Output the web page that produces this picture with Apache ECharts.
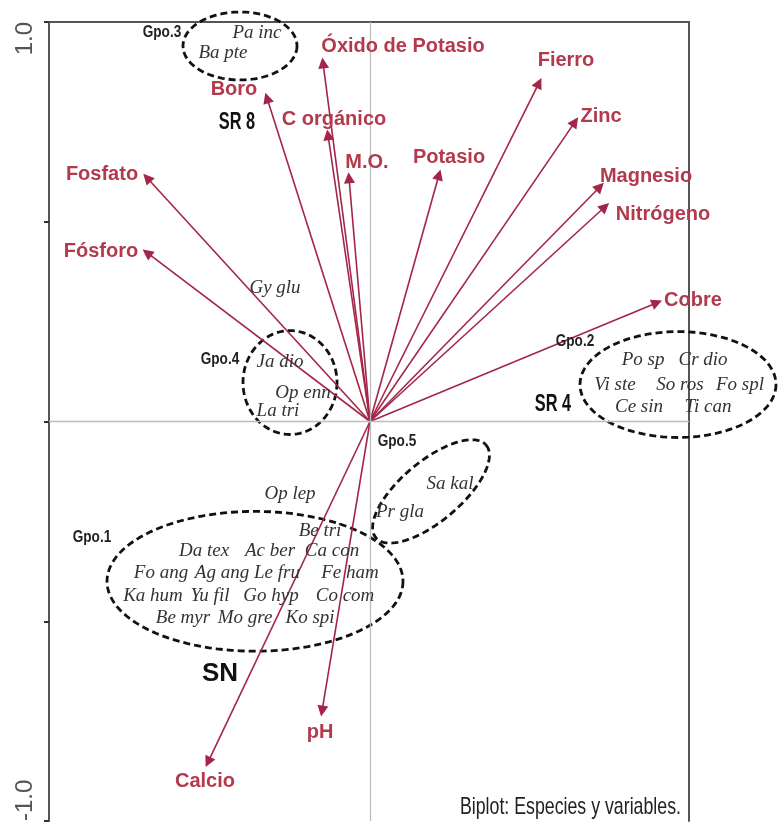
<!DOCTYPE html>
<html><head><meta charset="utf-8">
<script src="https://cdn.jsdelivr.net/npm/echarts@6/dist/echarts.min.js"></script>
<style>html,body{margin:0;padding:0;background:#fff}#c{width:778px;height:824px}</style>
</head><body><div id="c"></div>
<script>
// ---- Variables (arrows) ----
const varNames = ['Óxido de Potasio','Boro','C orgánico','M.O.','Fosfato','Fósforo','Potasio','Fierro','Zinc','Magnesio','Nitrógeno','Cobre','Calcio','pH'];
const varX = [-0.1175,-0.2575,-0.105,-0.0525,-0.5575,-0.5575,0.1725,0.4225,0.5125,0.575,0.5875,0.7175,-0.405,-0.12];
const varY = [0.8975,0.81,0.7175,0.61,0.61,0.4225,0.6175,0.8475,0.75,0.5875,0.5375,0.2975,-0.8525,-0.725];
const varLabelX = [0.0825,-0.34,-0.09,-0.0075,-0.67,-0.6725,0.1975,0.49,0.5775,0.69,0.7325,0.8075,-0.4125,-0.125];
const varLabelY = [0.9375,0.83,0.755,0.6475,0.6175,0.425,0.66,0.9025,0.7625,0.6125,0.5175,0.3025,-0.9,-0.7775];

// ---- Species ----
const speciesNames = ['Pa inc','Ba pte','Gy glu','Ja dio','Op enn','La tri','Sa kal','Pr gla','Op lep','Be tri',
  'Da tex','Ac ber','Ca con','Fo ang','Ag ang','Le fru','Fe ham','Ka hum','Yu fil','Go hyp','Co com','Be myr','Mo gre','Ko spi',
  'Po sp','Cr dio','Vi ste','So ros','Fo spl','Ce sin','Ti can'];
const speciesX = [-0.2825,-0.3675,-0.2375,-0.225,-0.1675,-0.23,0.2,0.075,-0.2,-0.125,
  -0.415,-0.25,-0.095,-0.5225,-0.37,-0.2325,-0.05,-0.5425,-0.4,-0.2475,-0.0625,-0.4675,-0.3125,-0.15,
  0.6825,0.8325,0.6125,0.775,0.925,0.6725,0.845];
const speciesY = [0.9725,0.9225,0.335,0.15,0.0725,0.0275,-0.1575,-0.2275,-0.1825,-0.275,
  -0.325,-0.325,-0.325,-0.38,-0.38,-0.38,-0.38,-0.4375,-0.4375,-0.4375,-0.4375,-0.4925,-0.4925,-0.4925,
  0.155,0.155,0.0925,0.0925,0.0925,0.0375,0.0375];

// ---- Groups (dashed ellipses) ----
const groupNames = ['Gpo.1','Gpo.2','Gpo.3','Gpo.4','Gpo.5'];
const groupLabelX = [-0.695,0.5125,-0.52,-0.375,0.0675];
const groupLabelY = [-0.29,0.2,0.975,0.155,-0.05];
const groupCX = [-0.2875,0.77,-0.325,-0.2,0.1525];
const groupCY = [-0.4,0.0925,0.94,0.0975,-0.175];
const groupRX = [0.37,0.245,0.1425,0.1175,0.18];
const groupRY = [0.175,0.1325,0.085,0.13,0.075];
const groupAngle = [0,0,0,0,40];

// ---- Site labels ----
const siteNames = ['SR 8','SR 4'];
const siteX = [-0.3325,0.4575];
const siteY = [0.7475,0.0425];
const snName = ['SN'];
const snX = [-0.375];
const snY = [-0.6325];

// ---- Axis ----
const yTickLabels = {'1': '1.0', '-1': '-1.0'};
const caption = 'Biplot: Especies y variables.';

const SANS = "'Liberation Sans',Arial,sans-serif";
const SERIF = "'Liberation Serif','Times New Roman',serif";

function textSeries(xs, ys, names, style, z, scaleX) {
  return {
    type: 'custom', coordinateSystem: 'cartesian2d', clip: false, silent: true, z: z || 5,
    data: xs.map((x, i) => [x, ys[i]]),
    renderItem: function (params, api) {
      const p = api.coord([api.value(0), api.value(1)]);
      return {
        type: 'text', x: p[0], y: p[1], scaleX: scaleX || 1,
        style: Object.assign({ text: names[params.dataIndex], align: 'center', verticalAlign: 'middle' }, style)
      };
    }
  };
}

const chart = echarts.init(document.getElementById('c'));
chart.setOption({
  animation: false,
  backgroundColor: '#fff',
  graphic: [{
    type: 'text', x: 681, y: 807, scaleX: 0.74, silent: true, z: 10,
    style: { text: caption, fontFamily: SANS, fontSize: 24, fill: '#222', align: 'right', verticalAlign: 'middle' }
  }],
  grid: { left: 49, right: 89, top: 22, bottom: 2 },
  xAxis: [{
    type: 'value', min: -0.8025, max: 0.7975, position: 'top',
    axisLine: { show: true, onZero: false, lineStyle: { color: '#555', width: 2 } },
    axisTick: { show: false }, axisLabel: { show: false }, splitLine: { show: false }
  }],
  yAxis: [{
    type: 'value', min: -1, max: 1, interval: 0.5, position: 'left',
    axisLine: { show: true, onZero: false, lineStyle: { color: '#555', width: 2 } },
    axisTick: { show: true, length: 5, lineStyle: { color: '#333', width: 2 } },
    axisLabel: {
      formatter: v => yTickLabels[String(v)] || '',
      rotate: 90, fontSize: 24, color: '#555', fontFamily: SANS, margin: 12,
      showMinLabel: true, showMaxLabel: true, alignMinLabel: 'left', alignMaxLabel: 'right'
    },
    splitLine: { show: false }
  }, {
    type: 'value', min: -1, max: 1, position: 'right',
    axisLine: { show: true, onZero: false, lineStyle: { color: '#555', width: 2 } },
    axisTick: { show: false }, axisLabel: { show: false }, splitLine: { show: false }
  }],
  series: [
    {
      type: 'line', data: [], silent: true, z: 1,
      markLine: {
        silent: true, symbol: 'none', label: { show: false }, animation: false,
        lineStyle: { color: '#bdbdbd', width: 1.3, type: 'solid' },
        data: [{ xAxis: 0 }, { yAxis: 0 }]
      }
    },
    {
      type: 'custom', coordinateSystem: 'cartesian2d', clip: false, silent: true, z: 3,
      data: groupCX.map((x, i) => [x, groupCY[i]]),
      renderItem: function (params, api) {
        const i = params.dataIndex;
        const c = api.coord([groupCX[i], groupCY[i]]);
        const s = api.size([groupRX[i], groupRY[i]]);
        const a = groupAngle[i] * Math.PI / 180;
        const pts = [];
        for (let k = 0; k < 120; k++) {
          const t = k / 120 * 2 * Math.PI;
          const ex = s[0] * Math.cos(t), ey = s[1] * Math.sin(t);
          pts.push([c[0] + ex * Math.cos(a) + ey * Math.sin(a), c[1] - ex * Math.sin(a) + ey * Math.cos(a)]);
        }
        return { type: 'polygon', shape: { points: pts }, style: { fill: 'none', stroke: '#111', lineWidth: 2.8, lineDash: [7, 4] } };
      }
    },
    {
      type: 'lines', coordinateSystem: 'cartesian2d', z: 4, silent: true,
      symbol: ['none', 'triangle'], symbolSize: 11,
      lineStyle: { color: '#a3264a', width: 1.6, opacity: 1 },
      data: varNames.map((n, i) => ({ coords: [[0, 0], [varX[i], varY[i]]] }))
    },
    textSeries(varLabelX, varLabelY, varNames, { fontFamily: SANS, fontSize: 20, fontWeight: 'bold', fill: '#b23a4c' }, 6),
    textSeries(speciesX, speciesY, speciesNames, { fontFamily: SERIF, fontSize: 19, fontStyle: 'italic', fill: '#333' }, 5),
    textSeries(groupLabelX, groupLabelY, groupNames, { fontFamily: SANS, fontSize: 17, fontWeight: 'bold', fill: '#222' }, 6, 0.8),
    textSeries(siteX, siteY, siteNames, { fontFamily: SANS, fontSize: 24, fontWeight: 'bold', fill: '#111' }, 6, 0.68),
    textSeries(snX, snY, snName, { fontFamily: SANS, fontSize: 26, fontWeight: 'bold', fill: '#111' }, 6)
  ]
});
</script>
</body></html>
